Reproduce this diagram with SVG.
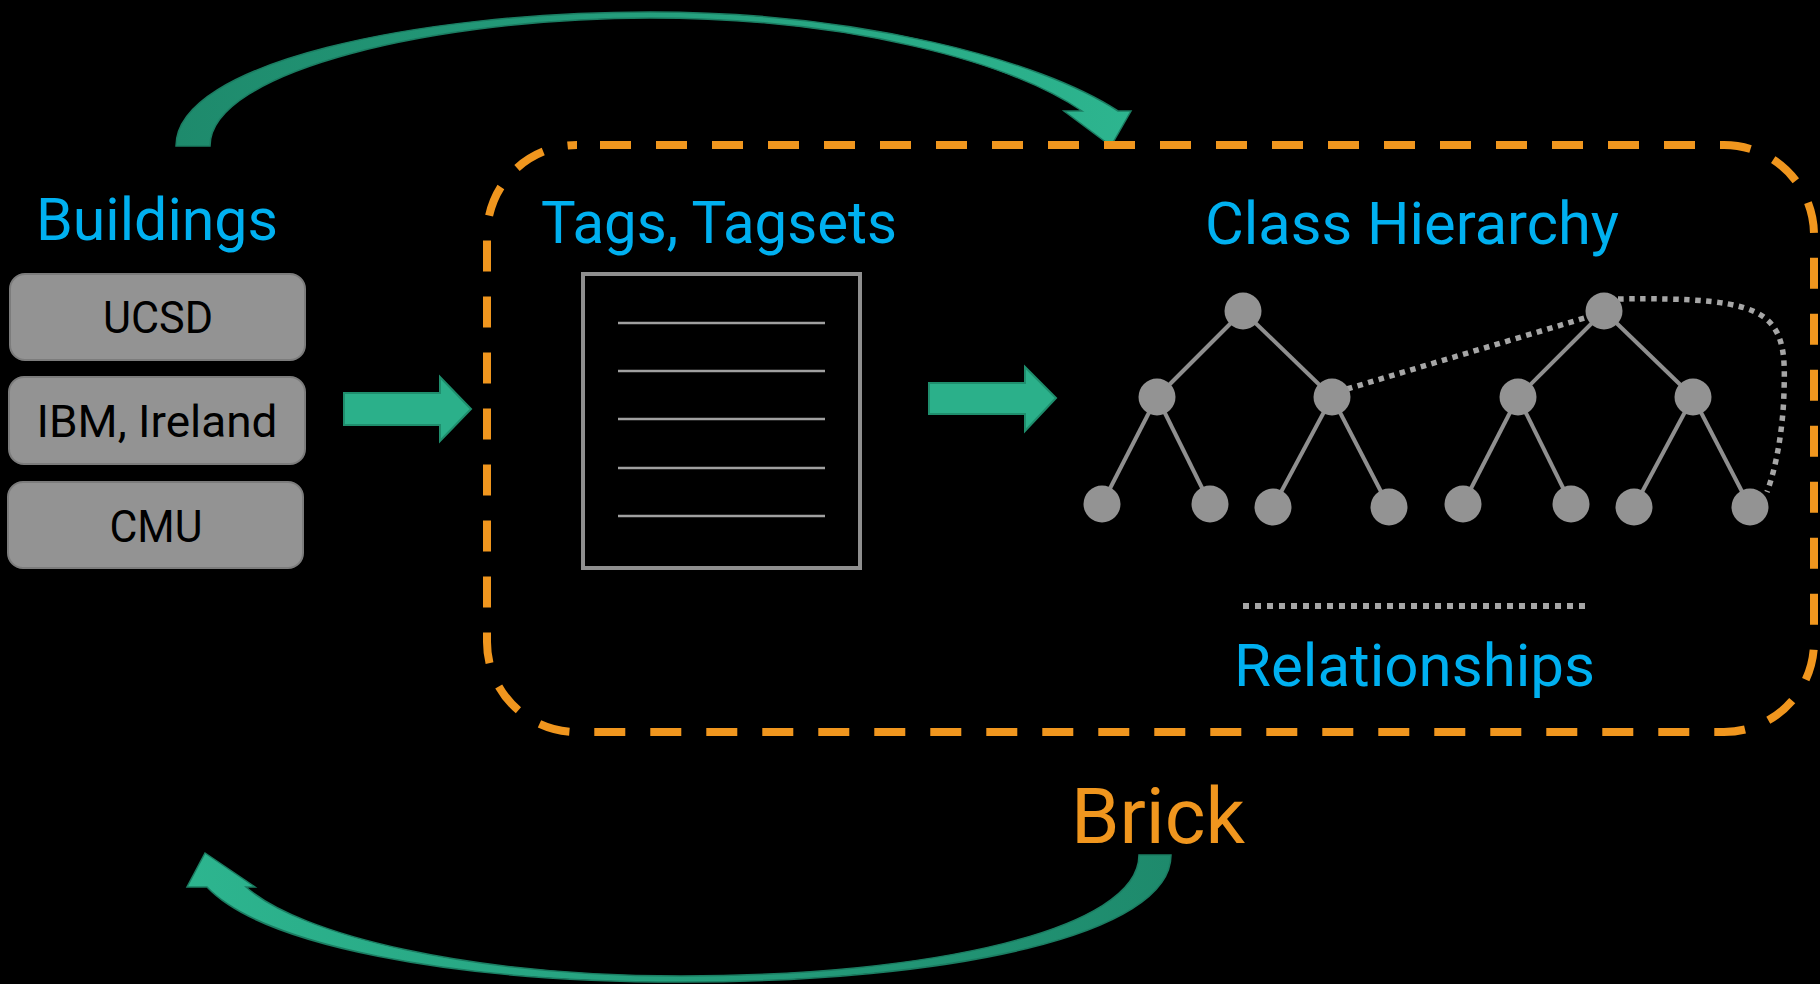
<svg xmlns="http://www.w3.org/2000/svg" width="1820" height="984" viewBox="0 0 1820 984">
<defs>
<linearGradient id="gTop" x1="176" y1="0" x2="1131" y2="0" gradientUnits="userSpaceOnUse">
<stop offset="0" stop-color="#1e8a6c"/><stop offset="1" stop-color="#2db58f"/>
</linearGradient>
<linearGradient id="gBot" x1="1171" y1="0" x2="187" y2="0" gradientUnits="userSpaceOnUse">
<stop offset="0" stop-color="#1e8a6c"/><stop offset="1" stop-color="#2db58f"/>
</linearGradient>
<style>
.t{font-family:Roboto,"Liberation Sans",sans-serif;}
.blue{fill:#00b0f0;font-size:59px;}
.box{fill:#939393;stroke:#7c7c7c;stroke-width:2;}
.btxt{fill:#000;font-size:45px;text-anchor:middle;}
.edge{stroke:#8f8f8f;stroke-width:4;fill:none;}
.node{fill:#939393;}
.dot{stroke:#a6a6a6;stroke-width:5.5;stroke-dasharray:5.5 5.5;fill:none;}
.arrow{fill:#2bb08a;stroke:#1f8e6d;stroke-width:2;}
.doc{fill:none;stroke:#8f8f8f;stroke-width:4;}
.docl{stroke:#a0a0a0;stroke-width:2.5;}
</style>
</defs>
<rect width="1820" height="984" fill="#000"/>

<g id="connectors">
<path d="M176,146 C176,62 420,12 650,12 C860,12 1040,60 1118,111 L1131,111 L1111,146 L1064,111 L1082,111 C1010,62 850,18 650,18 C440,18 210,70 210,146 Z" fill="url(#gTop)" stroke="#1b7d62" stroke-width="1.5"/>
<path d="M1139,855 L1171,855 C1171,935 950,982 681,982 C450,982 262,945 207,887 L187,887 L205,853 L255,887 L246,887 C300,935 470,976 681,976 C930,976 1139,930 1139,855 Z" fill="url(#gBot)" stroke="#1b7d62" stroke-width="1.5"/>
<path class="arrow" d="M344,393 L440,393 L440,377 L471,409 L440,441 L440,425 L344,425 Z"/>
<path class="arrow" d="M929,383 L1025,383 L1025,367 L1056,398 L1025,431 L1025,414 L929,414 Z"/>
</g>

<g id="brick-boundary">
<rect x="487" y="145" width="1327" height="587" rx="90" ry="90" fill="none" stroke="#f0961e" stroke-width="8" stroke-dasharray="31 25" stroke-dashoffset="33"/>
</g>

<g id="buildings">
<text class="t blue" x="36" y="240" textLength="242" lengthAdjust="spacingAndGlyphs">Buildings</text>
<g id="ucsd"><rect class="box" x="10" y="274" width="295" height="86" rx="15"/><text class="t btxt" x="158" y="333" textLength="110" lengthAdjust="spacingAndGlyphs">UCSD</text></g>
<g id="ibm"><rect class="box" x="9" y="377" width="296" height="87" rx="15"/><text class="t btxt" x="157" y="437" textLength="241" lengthAdjust="spacingAndGlyphs">IBM, Ireland</text></g>
<g id="cmu"><rect class="box" x="8" y="482" width="295" height="86" rx="15"/><text class="t btxt" x="156" y="542" textLength="93" lengthAdjust="spacingAndGlyphs">CMU</text></g>
</g>

<g id="tags">
<text class="t blue" x="541" y="243" textLength="356" lengthAdjust="spacingAndGlyphs">Tags, Tagsets</text>
<rect class="doc" x="583" y="274" width="277" height="294"/>
<line class="docl" x1="618" y1="323" x2="825" y2="323"/>
<line class="docl" x1="618" y1="371" x2="825" y2="371"/>
<line class="docl" x1="618" y1="419" x2="825" y2="419"/>
<line class="docl" x1="618" y1="468" x2="825" y2="468"/>
<line class="docl" x1="618" y1="516" x2="825" y2="516"/>
</g>

<g id="class-hierarchy">
<text class="t blue" x="1205" y="244" textLength="414" lengthAdjust="spacingAndGlyphs">Class Hierarchy</text>
<g class="edges">
<line class="edge" x1="1243" y1="311" x2="1157" y2="397"/>
<line class="edge" x1="1243" y1="311" x2="1332" y2="397"/>
<line class="edge" x1="1157" y1="397" x2="1102" y2="504"/>
<line class="edge" x1="1157" y1="397" x2="1210" y2="504"/>
<line class="edge" x1="1332" y1="397" x2="1273" y2="507"/>
<line class="edge" x1="1332" y1="397" x2="1389" y2="507"/>
<line class="edge" x1="1604" y1="311" x2="1518" y2="397"/>
<line class="edge" x1="1604" y1="311" x2="1693" y2="397"/>
<line class="edge" x1="1518" y1="397" x2="1463" y2="504"/>
<line class="edge" x1="1518" y1="397" x2="1571" y2="504"/>
<line class="edge" x1="1693" y1="397" x2="1634" y2="507"/>
<line class="edge" x1="1693" y1="397" x2="1750" y2="507"/>
</g>
<path class="dot" d="M1347,389 L1588,317"/>
<path class="dot" d="M1618,299 C1690,298 1742,300 1765,318 C1785,334 1785,360 1784,392 C1783,430 1776,468 1767,492"/>
<g class="nodes">
<circle class="node" cx="1243" cy="311" r="18.5"/>
<circle class="node" cx="1157" cy="397" r="18.5"/>
<circle class="node" cx="1332" cy="397" r="18.5"/>
<circle class="node" cx="1604" cy="311" r="18.5"/>
<circle class="node" cx="1518" cy="397" r="18.5"/>
<circle class="node" cx="1693" cy="397" r="18.5"/>
<circle class="node" cx="1102" cy="504" r="18.5"/>
<circle class="node" cx="1210" cy="504" r="18.5"/>
<circle class="node" cx="1273" cy="507" r="18.5"/>
<circle class="node" cx="1389" cy="507" r="18.5"/>
<circle class="node" cx="1463" cy="504" r="18.5"/>
<circle class="node" cx="1571" cy="504" r="18.5"/>
<circle class="node" cx="1634" cy="507" r="18.5"/>
<circle class="node" cx="1750" cy="507" r="18.5"/>
</g>
</g>

<g id="relationships">
<line x1="1243" y1="606" x2="1586" y2="606" stroke="#a6a6a6" stroke-width="6" stroke-dasharray="6 6"/>
<text class="t blue" x="1234" y="686" font-size="60" textLength="361" lengthAdjust="spacingAndGlyphs">Relationships</text>
</g>

<g id="brick">
<text class="t" x="1071" y="843" font-size="77" fill="#f0961e" textLength="174" lengthAdjust="spacingAndGlyphs">Brick</text>
</g>
</svg>
